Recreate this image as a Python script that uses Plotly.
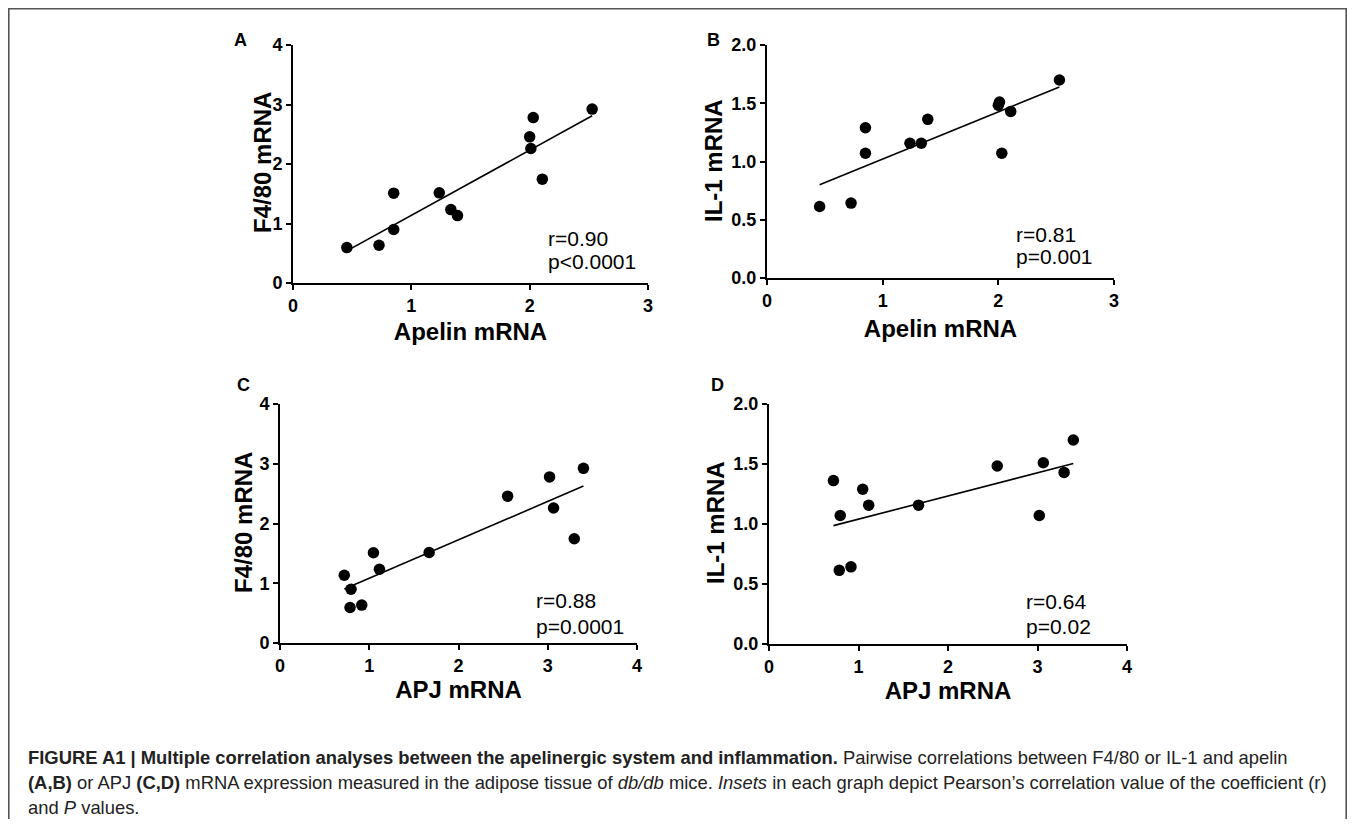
import numpy as np
import plotly.graph_objects as go

# ---- data (one entry per mouse) ----
apelin = [0.455, 0.727, 0.851, 0.851, 1.236, 1.334, 1.39, 2.0, 2.01, 2.03, 2.107, 2.528]
apj    = [0.785, 0.916, 1.047, 0.796, 1.671, 1.114, 0.72, 2.55, 3.065, 3.02, 3.297, 3.40]
f480   = [0.595, 0.634, 1.51, 0.90, 1.515, 1.234, 1.133, 2.457, 2.26, 2.78, 1.745, 2.923]
il1    = [0.614, 0.643, 1.29, 1.071, 1.157, 1.157, 1.362, 1.483, 1.51, 1.071, 1.43, 1.70]

panel_letters = ["A", "B", "C", "D"]
inset_r = ["r=0.90", "r=0.81", "r=0.88", "r=0.64"]
inset_p = ["p<0.0001", "p=0.001", "p=0.0001", "p=0.02"]
x_titles = ["Apelin mRNA", "Apelin mRNA", "APJ mRNA", "APJ mRNA"]
y_titles = ["F4/80 mRNA", "IL-1 mRNA", "F4/80 mRNA", "IL-1 mRNA"]
x_ticks = [[0, 1, 2, 3], [0, 1, 2, 3], [0, 1, 2, 3, 4], [0, 1, 2, 3, 4]]
y_ticks_f = [0, 1, 2, 3, 4]
y_ticks_il = [0.0, 0.5, 1.0, 1.5, 2.0]

# page is 1355x827; the html body has an 8px margin, so the figure itself is 16px smaller
PAGE_W, PAGE_H, BODY = 1355, 827, 8
W, H = PAGE_W - 2 * BODY, PAGE_H - 2 * BODY
def px(x):
    return (x - BODY) / W
def py(y):
    return 1 - (y - BODY) / H

FONT = "Liberation Sans, Arial, Helvetica, sans-serif"

panels = [
    dict(x=apelin, y=f480, xd=(293, 648), yd=(45, 283), xr=3, yr=4, yt=y_ticks_f, fmt="d",
         letter=(241, 40), r=(546, 238), p=(546, 261), xs=9, yt_pos=(262, 163)),
    dict(x=apelin, y=il1, xd=(767, 1114), yd=(45, 278), xr=3, yr=2, yt=y_ticks_il, fmt=".1f",
         letter=(714, 40), r=(1014, 234), p=(1014, 257), xs=11, yt_pos=(713, 161)),
    dict(x=apj, y=f480, xd=(280, 637), yd=(404, 643), xr=4, yr=4, yt=y_ticks_f, fmt="d",
         letter=(243, 385), r=(534, 600), p=(534, 626), xs=6, yt_pos=(243, 523)),
    dict(x=apj, y=il1, xd=(769, 1127), yd=(404, 644), xr=4, yr=2, yt=y_ticks_il, fmt=".1f",
         letter=(717, 385), r=(1024, 601), p=(1024, 626), xs=7, yt_pos=(715, 523)),
]

fig = go.Figure()
layout = dict(
    width=W, height=H, margin=dict(l=0, r=0, t=0, b=0, pad=0, autoexpand=False),
    paper_bgcolor="white", plot_bgcolor="white", showlegend=False,
    font=dict(family=FONT, color="black"),
)
annotations = []

for i, pn in enumerate(panels):
    n = "" if i == 0 else str(i + 1)
    xa, ya = "x" + n, "y" + n
    xs = np.array(pn["x"])
    ys = np.array(pn["y"])
    m, b = np.polyfit(xs, ys, 1)
    lx = np.array([xs.min(), xs.max()])
    fig.add_trace(go.Scatter(x=lx, y=m * lx + b, mode="lines",
                             line=dict(color="black", width=1.6),
                             xaxis=xa, yaxis=ya, hoverinfo="skip"))
    fig.add_trace(go.Scatter(x=xs, y=ys, mode="markers",
                             marker=dict(color="black", size=11.5),
                             xaxis=xa, yaxis=ya))
    axcommon = dict(showgrid=False, zeroline=False, showline=True, linecolor="black",
                    linewidth=2, ticks="outside", ticklen=5, tickwidth=2, tickcolor="black",
                    automargin=False,
                    tickfont=dict(family=FONT, size=18, color="black", weight="bold"))
    layout["xaxis" + n] = dict(
        domain=[px(pn["xd"][0]), px(pn["xd"][1])], range=[0, pn["xr"]],
        tickvals=x_ticks[i], anchor=ya,
        title=dict(text=x_titles[i], standoff=pn["xs"],
                   font=dict(family=FONT, size=24, color="black", weight="bold")),
        **axcommon)
    layout["yaxis" + n] = dict(
        domain=[py(pn["yd"][1]), py(pn["yd"][0])], range=[0, pn["yr"]],
        tickvals=pn["yt"], tickformat=pn["fmt"], anchor=xa,
        **axcommon)
    annotations.append(dict(text="<b>" + y_titles[i] + "</b>", textangle=-90,
                            x=px(pn["yt_pos"][0]), y=py(pn["yt_pos"][1]),
                            xref="paper", yref="paper", xanchor="center", yanchor="middle",
                            showarrow=False, font=dict(family=FONT, size=24, color="black")))
    annotations.append(dict(text="<b>" + panel_letters[i] + "</b>", x=px(pn["letter"][0]),
                            y=py(pn["letter"][1]), xref="paper", yref="paper",
                            xanchor="center", yanchor="middle", showarrow=False,
                            font=dict(family=FONT, size=18, color="black")))
    annotations.append(dict(text=inset_r[i], x=px(pn["r"][0]), y=py(pn["r"][1]),
                            xref="paper", yref="paper", xanchor="left", yanchor="middle",
                            showarrow=False, font=dict(family=FONT, size=21, color="black")))
    annotations.append(dict(text=inset_p[i], x=px(pn["p"][0]), y=py(pn["p"][1]),
                            xref="paper", yref="paper", xanchor="left", yanchor="middle",
                            showarrow=False, font=dict(family=FONT, size=21, color="black")))

caption_lines = [
    "<b>FIGURE A1 | Multiple correlation analyses between the apelinergic system and inflammation.</b> "
    "Pairwise correlations between F4/80 or IL-1 and apelin",
    "<b>(A,B)</b> or APJ <b>(C,D)</b> mRNA expression measured in the adipose tissue of <i>db/db</i> mice. "
    "<i>Insets</i> in each graph depict Pearson\u2019s correlation value of the coefficient (r)",
    "and <i>P</i> values.",
]
cap_y = [757, 782, 807]
for t, yy in zip(caption_lines, cap_y):
    annotations.append(dict(text=t, x=px(26), y=py(yy), xref="paper", yref="paper",
                            xanchor="left", yanchor="middle", showarrow=False, align="left",
                            font=dict(family=FONT, size=18.4, color="#222222")))

layout["annotations"] = annotations
# frame around the figure (kept just inside the drawable area)
layout["shapes"] = [dict(type="rect", xref="paper", yref="paper",
                         x0=px(8.8), x1=px(1346.2), y0=py(835), y1=py(8.8),
                         line=dict(color="#555555", width=1.6), fillcolor="rgba(0,0,0,0)",
                         layer="below")]
fig.update_layout(**layout)
fig.write_html("out.html")
